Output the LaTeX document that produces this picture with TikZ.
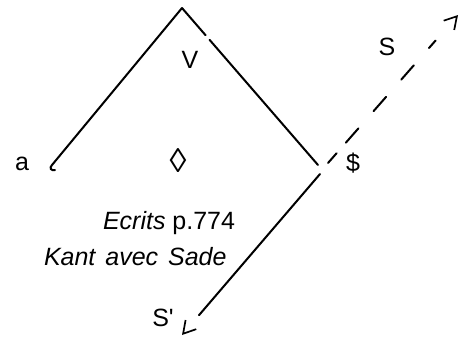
\documentclass[tikz,border=0pt]{standalone}
\usepackage{fontspec}
\setmainfont{Liberation Sans}
\usetikzlibrary{arrows.meta}
\begin{document}
\begin{tikzpicture}[x=1pt,y=-1pt,line width=2pt,line cap=round,
  lbl/.style={font=\fontsize{25}{30}\selectfont,inner sep=0pt},
  barb/.style={-{Straight Barb[length=12pt,width=14pt,line width=1.7pt]}}]
\useasboundingbox (0,0) rectangle (463,338);
\coordinate (apex) at (182,8);
\coordinate (aend) at (52,165);
\coordinate (corner) at (318,165);
\coordinate (lowstart) at (320,174);
\coordinate (sprime) at (182,335);
\coordinate (dstart) at (328,163);
\coordinate (stip) at (458,15);
\draw (apex) -- (aend) .. controls (49,168) and (51,171) .. (55,170);
\draw[dash pattern=on 36pt off 6pt on 220pt] (apex) -- (corner);
\draw[barb,dash pattern=on 186pt off 100pt] (lowstart) -- (sprime);
\draw[barb,dash pattern=on 13pt off 14pt on 19pt off 23pt on 19pt off 23pt on 19pt off 23pt on 10pt off 80pt] (dstart) -- (stip);
\node[lbl,anchor=base] (a) at (22,170) {a};
\node[lbl,anchor=base] (v) at (190,68) {V};
\node[lbl] (dollar) at (353,163) {\$};
\node[lbl] (s) at (387,47) {S};
\node[lbl] (sp) at (163,318) {S\textquotesingle};
\node[lbl,font=\fontsize{34}{40}\selectfont] (loz) at (178,161) {◊};
\node[lbl,anchor=base west] (ecrits) at (102,229) {\textit{Ecrits} p.774};
\node[lbl,anchor=base west] (kant) at (43,265) {\textit{Kant\hspace{3pt} avec\hspace{3pt} Sade}};
\end{tikzpicture}
\end{document}
